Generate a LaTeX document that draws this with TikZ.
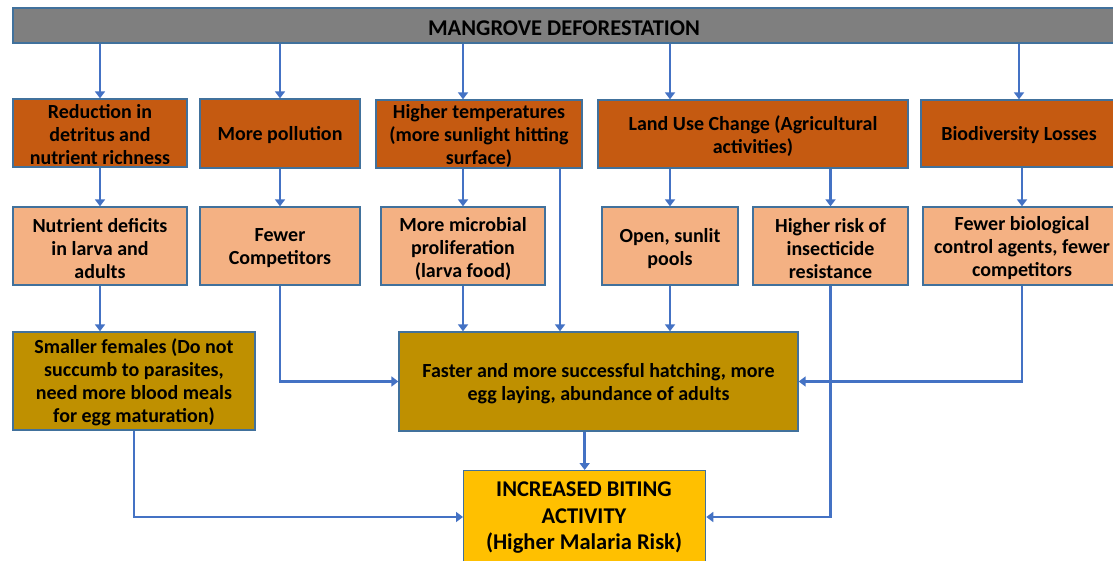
\documentclass[tikz,border=0pt]{standalone}
\usepackage{fontspec}
\setmainfont{Carlito}
\usetikzlibrary{arrows.meta}
\definecolor{linkblue}{HTML}{4472C4}
\definecolor{edgeblue}{HTML}{41719C}
\definecolor{barGray}{HTML}{7F7F7F}
\definecolor{rust}{HTML}{C55A11}
\definecolor{peach}{HTML}{F4B183}
\definecolor{olive}{HTML}{BF9000}
\definecolor{gold}{HTML}{FFC000}
\tikzset{
  box/.style={draw=edgeblue, line width=1.3pt, inner sep=0pt},
  boxtext/.style={align=center, inner sep=0pt, text=black,
    font=\bfseries\fontsize{20}{23}\selectfont},
  link/.style={draw=linkblue, line width=2.8pt,
    -{Triangle[width=10pt,length=7pt]}},
}
% box by corner coordinates: #1 box style, #2 name, #3 x1, #4 y1, #5 x2, #6 y2,
% #7 text, #8 text style; the label sits a little below the box centre
\newcommand{\cornerbox}[8]{%
  \pgfmathsetmacro{\bw}{#5-#3}\pgfmathsetmacro{\bh}{#6-#4}%
  \pgfmathsetmacro{\bx}{(#3+#5)/2}\pgfmathsetmacro{\by}{(#4+#6)/2}%
  \node[box, #1, minimum width=\bw pt, minimum height=\bh pt] (#2) at (\bx,\by) {};
  \node[boxtext, #8] (#2-t) at ([yshift=-2pt]#2.center) {#7};}
\begin{document}
\begin{tikzpicture}[x=1pt, y=-1pt]
\useasboundingbox (0,0) rectangle (1113,561);
\clip (0,0) rectangle (1113,561);

% cause
\cornerbox{fill=barGray}{top}{13}{8}{1117}{43}{MANGROVE DEFORESTATION}{font=\bfseries\fontsize{22.5}{26}\selectfont, yshift=-1pt, xshift=-1pt}

% first-order effects
\cornerbox{fill=rust}{redu}{13}{99}{187}{167}{Reduction in\\detritus and\\nutrient richness}{}
\cornerbox{fill=rust}{poll}{200}{99}{360}{168}{More pollution}{}
\cornerbox{fill=rust}{temp}{376}{100}{582}{168}{Higher temperatures\\(more sunlight hitting\\surface)}{}
\cornerbox{fill=rust}{land}{598}{100}{908}{168}{Land Use Change (Agricultural\\activities)}{}
\cornerbox{fill=rust}{biod}{921}{100}{1117}{167}{Biodiversity Losses}{}

% second-order effects
\cornerbox{fill=peach}{nutr}{13}{207}{187}{285}{Nutrient deficits\\in larva and\\adults}{yshift=-0.5pt}
\cornerbox{fill=peach}{comp}{200}{207}{360}{285}{Fewer\\Competitors}{yshift=-0.5pt}
\cornerbox{fill=peach}{micr}{381}{207}{545}{285}{More microbial\\proliferation\\(larva food)}{yshift=-0.5pt}
\cornerbox{fill=peach}{pool}{602}{207}{738}{285}{Open, sunlit\\pools}{yshift=-0.5pt}
\cornerbox{fill=peach}{resi}{753}{207}{908}{285}{Higher risk of\\insecticide\\resistance}{yshift=-0.5pt}
\cornerbox{fill=peach}{bioc}{923}{207}{1121}{285}{Fewer biological\\control agents, fewer\\competitors}{yshift=-0.5pt}

% mosquito population
\cornerbox{fill=olive}{smal}{13}{332}{255}{430}{Smaller females (Do not\\succumb to parasites,\\need more blood meals\\for egg maturation)}{yshift=1pt}
\cornerbox{fill=olive}{hatc}{399}{332}{798}{431}{Faster and more successful hatching, more\\egg laying, abundance of adults}{}

% outcome
\node[box, fill=gold, minimum width=242pt, minimum height=110pt, anchor=north west] (bite) at (463,470) {};
\node[boxtext, font=\bfseries\fontsize{22.5}{26.5}\selectfont, anchor=north] (bite-t)
  at (584,482) {INCREASED BITING\\ACTIVITY\\(Higher Malaria Risk)};

\coordinate (tempx) at (560,0);
\coordinate (lowy) at (0,517);

% deforestation to first-order effects
\draw[link] (top.south -| redu.north) -- (redu.north);
\draw[link] (top.south -| poll.north) -- (poll.north);
\draw[link] (top.south -| micr.north) -- (temp.north -| micr.north);
\draw[link] (top.south -| pool.north) -- (land.north -| pool.north);
\draw[link] (top.south -| biod.north) -- (biod.north);

% first-order to second-order
\draw[link] (redu.south) -- (nutr.north);
\draw[link] (poll.south) -- (comp.north);
\draw[link] (temp.south -| micr.north) -- (micr.north);
\draw[link] (land.south -| pool.north) -- (pool.north);
\draw[link] (land.south -| resi.north) -- (resi.north);
\draw[link] (biod.south -| bioc.north) -- (bioc.north);

% into the population boxes
\draw[link] (nutr.south) -- (smal.north -| nutr.south);
\draw[link] (comp.south) |- (hatc.west);
\draw[link] (micr.south) -- (hatc.north -| micr.south);
\draw[link] (temp.south -| tempx) -- (hatc.north -| tempx);
\draw[link] (pool.south) -- (hatc.north -| pool.south);
\draw[link] (bioc.south) |- (hatc.east);

% into the outcome
\draw[link] (hatc.south -| bite.north) -- (bite.north);
\draw[link] (smal.south) |- (bite.west |- lowy);
\draw[link] (resi.south) |- (bite.east |- lowy);
\end{tikzpicture}
\end{document}
